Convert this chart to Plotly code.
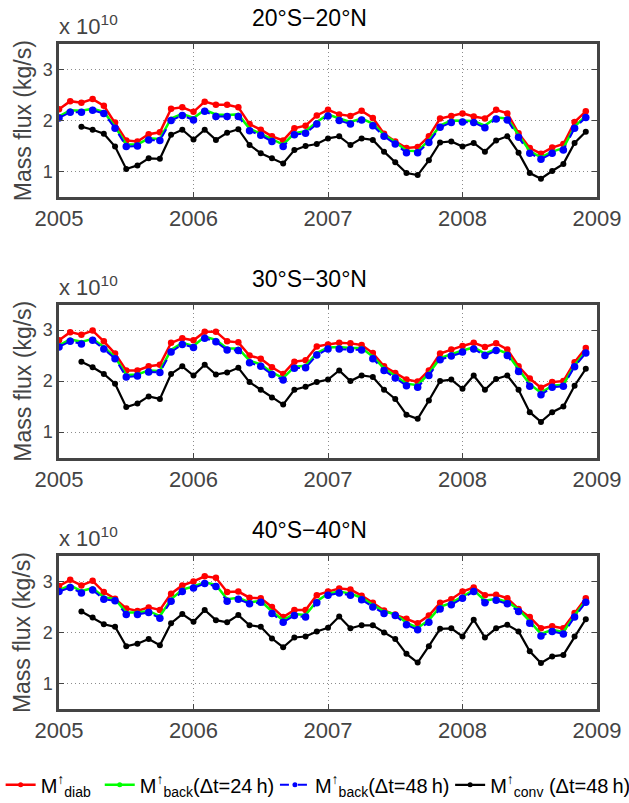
import numpy as np
import plotly.graph_objects as go

# ---------------- data ----------------
years = [2005, 2006, 2007, 2008, 2009]
year_labels = ["2005", "2006", "2007", "2008", "2009"]
y_ticks = [1, 2, 3]
y_tick_labels = ["1", "2", "3"]
months = np.arange(48)              # monthly values Jan 2005 .. Dec 2008
time = 2005 + months / 12.0
conv_start = 2                      # convective series starts in March 2005

regions = ["20°S−20°N", "30°S−30°N", "40°S−40°N"]
series_names = [
    "M<sup>↑</sup><sub>diab</sub>",
    "M<sup>↑</sup><sub>back</sub>(Δt=24\u2009h)",
    "M<sup>↑</sup><sub>back</sub>(Δt=48\u2009h)",
    "M<sup>↑</sup><sub>conv</sub> (Δt=48\u2009h)",
]

# 20S-20N (units of 1e10 kg/s)
diab_20 = [2.22, 2.38, 2.35, 2.42, 2.29, 1.96, 1.61, 1.59, 1.73, 1.77, 2.23, 2.26,
           2.17, 2.37, 2.31, 2.31, 2.26, 1.93, 1.82, 1.69, 1.61, 1.85, 1.90, 2.10,
           2.21, 2.12, 2.09, 2.19, 2.05, 1.74, 1.59, 1.46, 1.48, 1.69, 2.04, 2.09,
           2.14, 2.08, 2.04, 2.21, 2.14, 1.75, 1.46, 1.35, 1.47, 1.54, 1.97, 2.18]
back24_20 = [2.08, 2.20, 2.19, 2.23, 2.17, 1.88, 1.53, 1.53, 1.65, 1.64, 2.04, 2.13,
             2.05, 2.21, 2.12, 2.11, 2.12, 1.84, 1.74, 1.63, 1.53, 1.75, 1.79, 1.97,
             2.12, 2.04, 1.97, 2.04, 1.94, 1.72, 1.58, 1.41, 1.40, 1.61, 1.90, 2.00,
             2.00, 1.99, 1.90, 2.06, 2.04, 1.71, 1.40, 1.28, 1.39, 1.46, 1.88, 2.09]
back48_20 = [2.05, 2.16, 2.16, 2.20, 2.14, 1.85, 1.49, 1.50, 1.62, 1.61, 2.00, 2.10,
             2.01, 2.18, 2.08, 2.08, 2.08, 1.80, 1.71, 1.59, 1.49, 1.72, 1.75, 1.93,
             2.09, 2.00, 1.93, 2.01, 1.90, 1.69, 1.54, 1.37, 1.37, 1.57, 1.87, 1.96,
             1.97, 1.96, 1.86, 2.03, 2.01, 1.67, 1.36, 1.24, 1.36, 1.42, 1.85, 2.06]
conv_20 = [1.88, 1.82, 1.74, 1.49, 1.05, 1.12, 1.26, 1.25, 1.72, 1.82,
           1.63, 1.82, 1.62, 1.76, 1.83, 1.52, 1.36, 1.26, 1.16, 1.42, 1.50, 1.54,
           1.65, 1.69, 1.52, 1.65, 1.62, 1.39, 1.18, 0.97, 0.93, 1.22, 1.57, 1.59,
           1.49, 1.56, 1.39, 1.61, 1.69, 1.37, 0.97, 0.86, 1.01, 1.15, 1.56, 1.78]

# 30S-30N
diab_30 = [2.80, 2.96, 2.91, 2.99, 2.78, 2.54, 2.21, 2.21, 2.29, 2.32, 2.75, 2.84,
           2.80, 2.97, 2.97, 2.78, 2.76, 2.50, 2.44, 2.27, 2.14, 2.38, 2.41, 2.68,
           2.72, 2.75, 2.74, 2.71, 2.55, 2.29, 2.16, 2.03, 1.99, 2.21, 2.54, 2.62,
           2.69, 2.75, 2.67, 2.74, 2.62, 2.29, 2.05, 1.87, 1.98, 2.00, 2.37, 2.65]
back24_30 = [2.70, 2.82, 2.77, 2.83, 2.67, 2.47, 2.12, 2.13, 2.21, 2.20, 2.61, 2.75,
             2.69, 2.87, 2.81, 2.64, 2.64, 2.40, 2.33, 2.17, 2.06, 2.28, 2.30, 2.55,
             2.66, 2.67, 2.65, 2.65, 2.48, 2.25, 2.10, 1.95, 1.92, 2.15, 2.45, 2.53,
             2.60, 2.66, 2.54, 2.63, 2.54, 2.23, 1.94, 1.77, 1.91, 1.93, 2.31, 2.58]
back48_30 = [2.67, 2.78, 2.73, 2.80, 2.63, 2.44, 2.08, 2.10, 2.18, 2.17, 2.57, 2.72,
             2.66, 2.84, 2.77, 2.61, 2.60, 2.36, 2.29, 2.13, 2.02, 2.25, 2.26, 2.51,
             2.63, 2.63, 2.62, 2.61, 2.44, 2.21, 2.06, 1.91, 1.88, 2.11, 2.42, 2.49,
             2.57, 2.63, 2.50, 2.60, 2.50, 2.19, 1.90, 1.73, 1.88, 1.90, 2.28, 2.55]
conv_30 = [2.38, 2.27, 2.14, 1.95, 1.49, 1.56, 1.70, 1.65, 2.14, 2.29,
           2.11, 2.32, 2.13, 2.17, 2.26, 1.98, 1.83, 1.68, 1.54, 1.83, 1.89, 1.98,
           2.03, 2.21, 2.00, 2.11, 2.08, 1.83, 1.65, 1.34, 1.26, 1.62, 2.00, 2.03,
           1.85, 2.11, 1.83, 2.04, 2.11, 1.83, 1.39, 1.20, 1.39, 1.50, 1.91, 2.24]

# 40S-40N
diab_40 = [2.91, 3.03, 2.92, 3.01, 2.79, 2.66, 2.47, 2.42, 2.49, 2.44, 2.76, 2.92,
           3.00, 3.10, 3.07, 2.79, 2.80, 2.68, 2.67, 2.50, 2.30, 2.44, 2.44, 2.73,
           2.80, 2.86, 2.84, 2.72, 2.58, 2.43, 2.35, 2.27, 2.18, 2.33, 2.58, 2.65,
           2.80, 2.88, 2.73, 2.74, 2.67, 2.46, 2.30, 2.08, 2.12, 2.08, 2.38, 2.67]
back24_40 = [2.83, 2.92, 2.81, 2.87, 2.69, 2.65, 2.39, 2.39, 2.42, 2.32, 2.65, 2.84,
             2.90, 2.98, 2.93, 2.65, 2.68, 2.59, 2.62, 2.41, 2.24, 2.36, 2.34, 2.61,
             2.76, 2.80, 2.76, 2.68, 2.54, 2.41, 2.36, 2.19, 2.09, 2.24, 2.50, 2.58,
             2.70, 2.83, 2.62, 2.66, 2.60, 2.45, 2.22, 1.97, 2.05, 2.01, 2.33, 2.62]
back48_40 = [2.80, 2.88, 2.77, 2.83, 2.65, 2.62, 2.35, 2.35, 2.39, 2.28, 2.61, 2.80,
             2.87, 2.96, 2.90, 2.61, 2.65, 2.56, 2.59, 2.37, 2.20, 2.33, 2.30, 2.58,
             2.73, 2.77, 2.73, 2.64, 2.50, 2.37, 2.33, 2.15, 2.05, 2.20, 2.46, 2.54,
             2.67, 2.80, 2.58, 2.63, 2.56, 2.41, 2.18, 1.93, 2.02, 1.97, 2.30, 2.59]
conv_40 = [2.41, 2.29, 2.16, 2.11, 1.73, 1.78, 1.87, 1.75, 2.18, 2.36,
           2.21, 2.44, 2.24, 2.20, 2.34, 2.14, 2.11, 1.88, 1.71, 1.90, 1.92, 2.02,
           2.09, 2.31, 2.08, 2.14, 2.14, 2.00, 1.87, 1.58, 1.41, 1.73, 2.07, 2.08,
           1.92, 2.25, 1.90, 2.08, 2.15, 2.02, 1.63, 1.40, 1.53, 1.56, 1.92, 2.26]

panels = [
    (diab_20, back24_20, back48_20, conv_20),
    (diab_30, back24_30, back48_30, conv_30),
    (diab_40, back24_40, back48_40, conv_40),
]

# ---------------- layout geometry (pixels) ----------------
W, H = 629, 803
X0, X1 = 59.3, 596.7
PANEL_PX = [(44.0, 197.1), (304.7, 457.7), (556.0, 709.2)]
TOP, BOT = PANEL_PX[0][0], PANEL_PX[-1][1]


def px(x):
    return (x - X0) / (X1 - X0)


def py(y):
    return (BOT - y) / (BOT - TOP)


FRAME = "#444444"
TXT = "#444444"
FONT = "Liberation Sans, Arial, Helvetica, sans-serif"

styles = [
    dict(color="#ff0000", width=2.5, dash="solid", msize=6.5),
    dict(color="#00ff00", width=2.5, dash="solid", msize=4),
    dict(color="#0000ff", width=2, dash="dash", msize=7.5),
    dict(color="#000000", width=2.2, dash="solid", msize=6),
]
legend_ids = ["legend", "legend2", "legend3", "legend4"]

fig = go.Figure()
for i, series in enumerate(panels):
    s = "" if i == 0 else str(i + 1)
    for k, vals in enumerate(series):
        st = styles[k]
        xs = time[conv_start:] if k == 3 else time
        fig.add_trace(go.Scatter(
            x=xs, y=vals, mode="lines+markers",
            name=series_names[k],
            line=dict(color=st["color"], width=st["width"], dash=st["dash"]),
            marker=dict(color=st["color"], size=st["msize"]),
            xaxis="x" + s, yaxis="y" + s,
            showlegend=False,
        ))

# legend entries (small markers as in the original legend)
for k, lid in enumerate(legend_ids):
    st = styles[k]
    fig.add_trace(go.Scatter(
        x=[None], y=[None], mode="lines+markers", name=series_names[k],
        line=dict(color=st["color"], width=st["width"], dash=st["dash"]),
        marker=dict(color=st["color"], size=5),
        showlegend=True, legend=lid,
    ))

layout = dict(
    width=W, height=H,
    margin=dict(l=X0, r=W - X1, t=TOP, b=H - BOT, pad=0, autoexpand=False),
    paper_bgcolor="white", plot_bgcolor="white",
    font=dict(family=FONT, color=TXT),
    annotations=[],
)

for i, (t, b) in enumerate(PANEL_PX):
    s = "" if i == 0 else str(i + 1)
    layout["xaxis" + s] = dict(
        domain=[0, 1], anchor="y" + s, range=[2005, 2009],
        tickmode="array", tickvals=years, ticktext=year_labels,
        showgrid=True, gridcolor="#8c8c8c", gridwidth=1, griddash="1px,3px",
        showline=True, linecolor=FRAME, linewidth=2.5, mirror="allticks",
        ticks="inside", ticklen=5, tickcolor=FRAME, tickwidth=1,
        tickfont=dict(size=22, color=TXT), zeroline=False, automargin=False,
    )
    layout["yaxis" + s] = dict(
        domain=[py(b), py(t)], anchor="x" + s, range=[0.5, 3.5],
        tickmode="array", tickvals=y_ticks, ticktext=y_tick_labels,
        showgrid=True, gridcolor="#8c8c8c", gridwidth=1, griddash="1px,3px",
        showline=True, linecolor=FRAME, linewidth=2.5, mirror="allticks",
        ticks="inside", ticklen=5, tickcolor=FRAME, tickwidth=1,
        tickfont=dict(size=18, color=TXT), zeroline=False, automargin=False,
    )
    # panel title
    layout["annotations"].append(dict(
        text=regions[i], xref="paper", yref="paper",
        x=px(310), y=py(t - 26), xanchor="center", yanchor="middle",
        showarrow=False, font=dict(size=23, color="black"),
    ))
    # exponent label
    layout["annotations"].append(dict(
        text="x 10<sup>10</sup>", xref="paper", yref="paper",
        x=px(57), y=py(t - 3), xanchor="left", yanchor="bottom",
        showarrow=False, font=dict(size=22, color=TXT),
    ))
    # y-axis title
    layout["annotations"].append(dict(
        text="Mass flux (kg/s)", xref="paper", yref="paper",
        x=px(23), y=py((t + b) / 2), xanchor="center", yanchor="middle",
        textangle=-90, showarrow=False, font=dict(size=23, color=TXT),
    ))

legend_x_px = [1, 100, 275, 450]
for k, lid in enumerate(legend_ids):
    layout[lid] = dict(
        x=px(legend_x_px[k]), y=py(785), xanchor="left", yanchor="middle",
        orientation="h", bgcolor="rgba(0,0,0,0)", borderwidth=0,
        font=dict(size=20, color="black", family=FONT), itemwidth=30,
    )

fig.update_layout(**layout)
fig.write_html("out.html", config={"displayModeBar": False},
               post_script="document.body.style.margin='0';")
